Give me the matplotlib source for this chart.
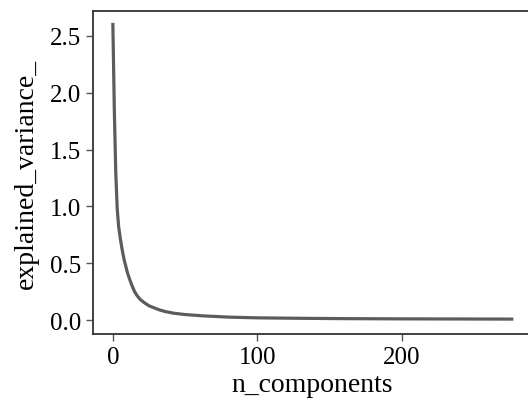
import numpy as np
import matplotlib
matplotlib.use("Agg")
import matplotlib.pyplot as plt

# explained variance at selected component indices
n_components = [0, 1, 2, 3, 4, 5, 6, 7, 8, 9, 10, 11, 13, 15, 17, 19, 22, 25, 28,
                32, 36, 42, 50, 63, 81, 100, 130, 160, 200, 240, 276]
explained_variance = [2.6, 1.85, 1.3, 0.98, 0.82, 0.73, 0.65, 0.58, 0.52, 0.47, 0.42,
                      0.38, 0.31, 0.25, 0.21, 0.18, 0.15, 0.125, 0.11, 0.09, 0.075,
                      0.06, 0.048, 0.036, 0.025, 0.019, 0.015, 0.012, 0.010, 0.009, 0.008]

plt.rcParams["font.family"] = ["Liberation Serif", "DejaVu Serif"]

fig = plt.figure(figsize=(5.28, 4.02), dpi=100)
ax = fig.add_axes([0.176, 0.1667, 0.831, 0.8033])

ax.plot(n_components, explained_variance, color="#5c5c5c", linewidth=2.3)

ax.set_xlim(-13.8, 289.8)
ax.set_ylim(-0.123, 2.718)
ax.set_xticks([0, 100, 200])
ax.set_yticks([0.0, 0.5, 1.0, 1.5, 2.0, 2.5])
ax.set_yticklabels(["0.0", "0.5", "1.0", "1.5", "2.0", "2.5"])

for s in ax.spines.values():
    s.set_color("#333333")
    s.set_linewidth(1.3)
ax.tick_params(colors="#555555", length=5, width=1.0, labelsize=18, labelcolor="black")

ax.set_xlabel("n_components", fontsize=20, labelpad=3)
ax.set_ylabel("explained_variance_", fontsize=20, labelpad=8)

fig.savefig("out.png", dpi=100)
